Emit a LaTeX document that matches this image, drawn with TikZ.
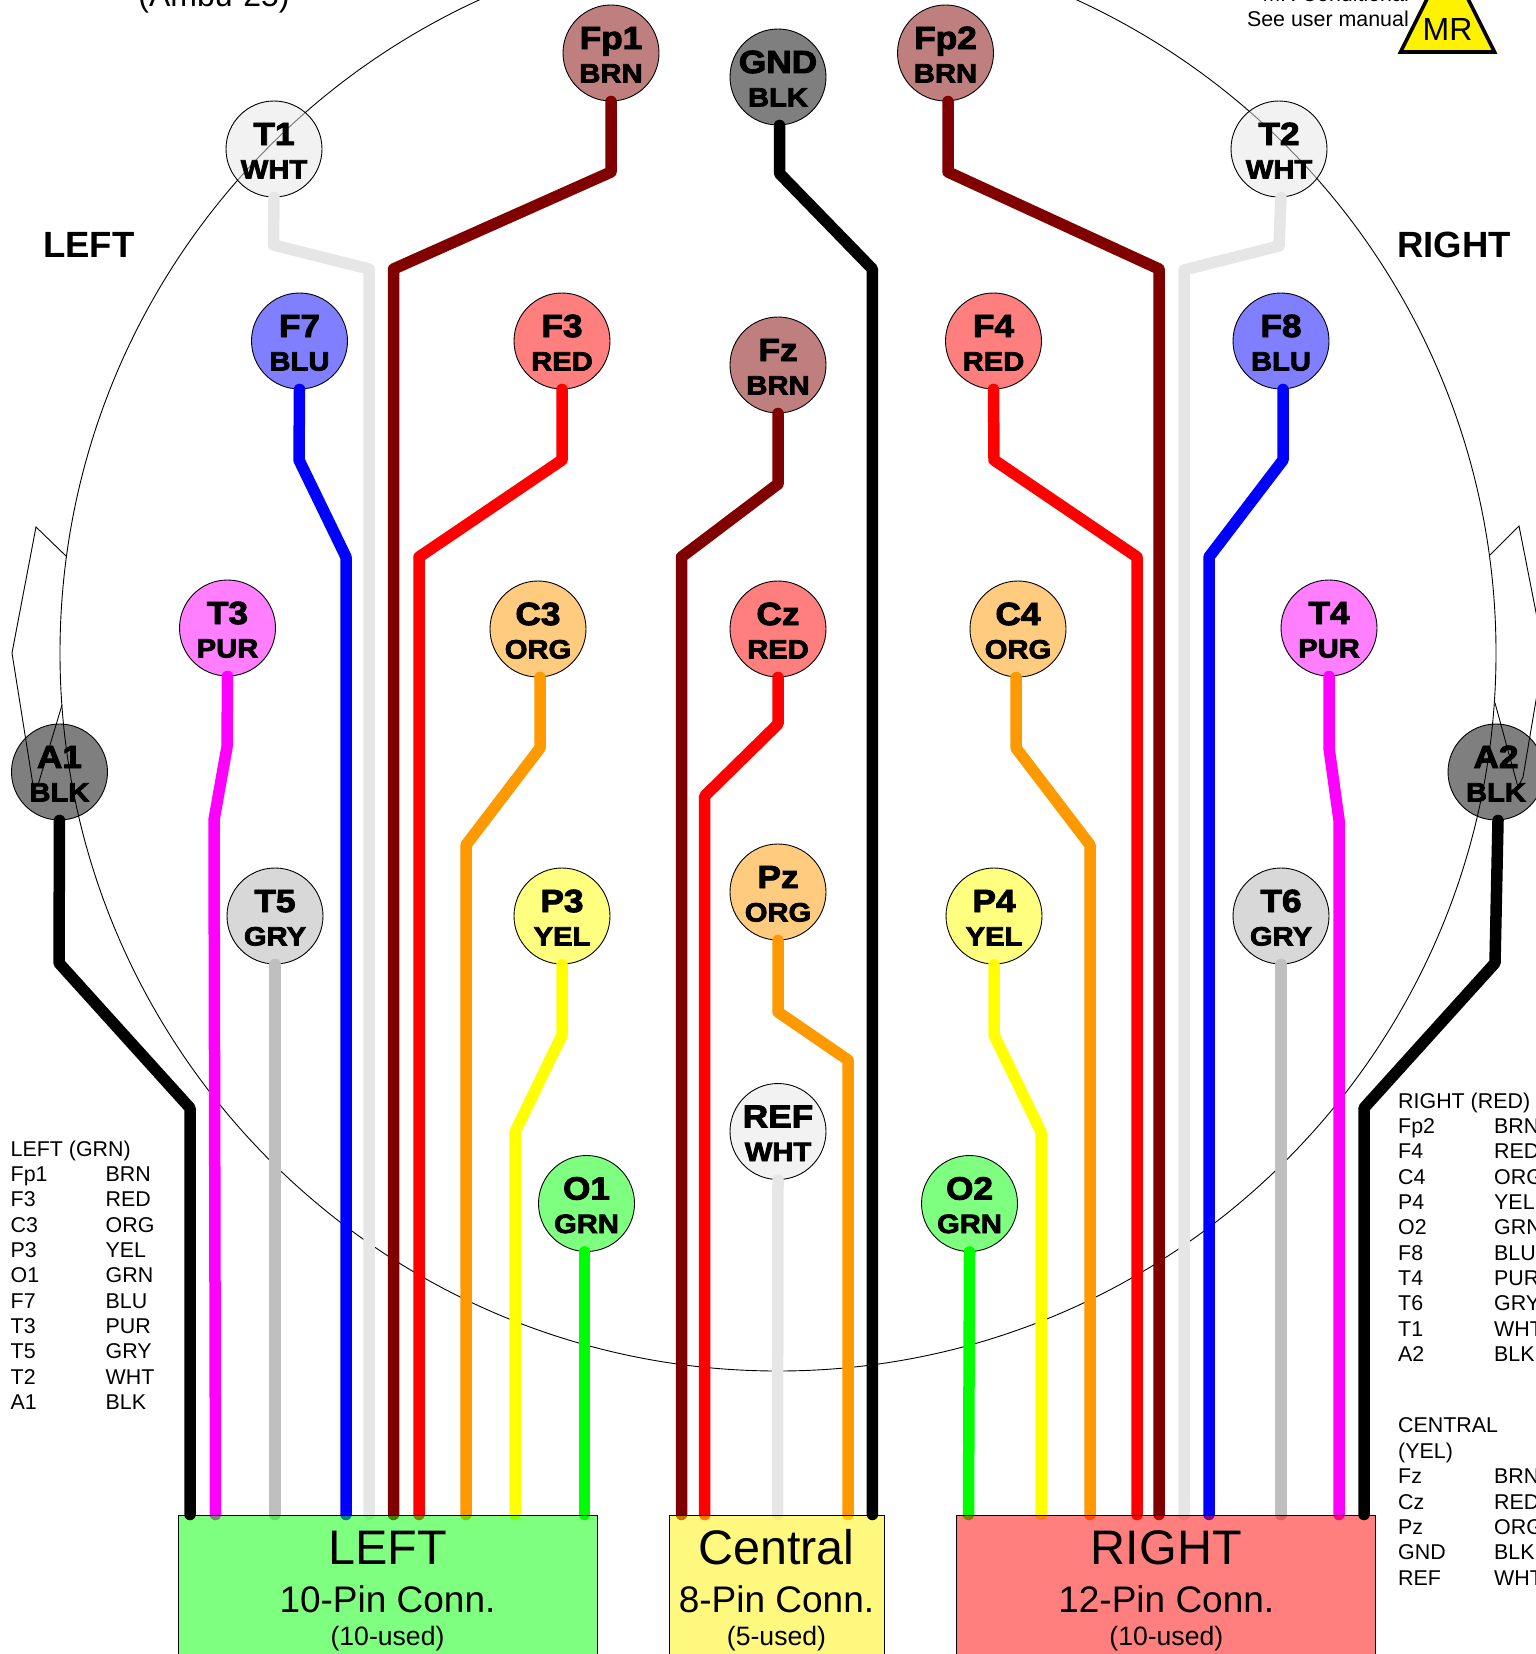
\documentclass[tikz,border=0pt]{standalone}
\usepackage{fontspec}
\setmainfont{Liberation Sans}
\newfontfamily\heavyf{Liberation Sans Bold}[FakeBold=3,FakeStretch=1.1]
\pgfdeclarelayer{back}
\pgfdeclarelayer{front}
\pgfsetlayers{back,main,front}
\definecolor{cBRN}{HTML}{800000}
\definecolor{cBLK}{HTML}{000000}
\definecolor{cWHT}{HTML}{E6E6E6}
\definecolor{cBLU}{HTML}{0000FF}
\definecolor{cRED}{HTML}{FF0000}
\definecolor{cPUR}{HTML}{FF00FF}
\definecolor{cORG}{HTML}{FF9900}
\definecolor{cGRY}{HTML}{BFBFBF}
\definecolor{cGRYn}{HTML}{B2B2B2}
\definecolor{cYEL}{HTML}{FFFF00}
\definecolor{cGRN}{HTML}{00FF00}
\newcommand\eeglab[2]{\makebox[0pt][c]{\smash{\raisebox{4pt}{\fontsize{32}{32}\heavyf #1}}}\makebox[0pt][c]{\smash{\raisebox{-29.5pt}{\fontsize{26.5}{26.5}\heavyf #2}}}}
\tikzset{
 x=1pt,y=-1pt,
 elec/.style={circle,draw=black,line width=0.9pt,fill=c#1,fill opacity=0.5,text opacity=1,minimum size=96pt,inner sep=0pt,text height=0pt,text depth=0pt},
 wire/.style={draw=c#1,line width=11.5pt,line cap=round,line join=round},
 connbox/.style={rectangle,draw=black,line width=1pt,fill=#1,fill opacity=0.5,text opacity=1,minimum height=190pt,inner sep=0pt,anchor=north},
 head/.style={draw=black,line width=0.9pt},
 txtbase/.style={anchor=base west,inner sep=0pt,font=\fontsize{21.4}{21.4}\selectfont},
 side/.style={anchor=base west,inner sep=0pt,font=\fontsize{36.5}{36.5}\selectfont\bfseries},
 boxA/.style={anchor=base,inner sep=0pt,font=\fontsize{48.5}{48.5}\selectfont},
 boxB/.style={anchor=base,inner sep=0pt,font=\fontsize{37}{37}\selectfont},
 boxC/.style={anchor=base,inner sep=0pt,font=\fontsize{26.6}{26.6}\selectfont},
}
\begin{document}
\begin{tikzpicture}
\useasboundingbox (0,0) rectangle (1536,1654);
\begin{pgfonlayer}{back}
 % head outline and ears
 \draw[head] (778,653) circle [radius=718pt];
 \draw[head] (66,556) -- (36,527) -- (12,653) -- (33,785) -- (38,785) -- (62,705);
 \draw[head] (1490,555) -- (1519,526) -- (1544,653) -- (1523,777) -- (1518,787) -- (1495,703);
 % electrodes
 \node[elec=BRN] (Fp1) at (611,53) {\eeglab{Fp1}{BRN}};
 \node[elec=BLK] (GND) at (778,77) {\eeglab{GND}{BLK}};
 \node[elec=BRN] (Fp2) at (945.5,53) {\eeglab{Fp2}{BRN}};
 \node[elec=WHT] (T1) at (274,149) {\eeglab{T1}{WHT}};
 \node[elec=WHT] (T2) at (1279,149) {\eeglab{T2}{WHT}};
 \node[elec=BLU] (F7) at (299.5,341) {\eeglab{F7}{BLU}};
 \node[elec=RED] (F3) at (562,341) {\eeglab{F3}{RED}};
 \node[elec=BRN] (Fz) at (778,365) {\eeglab{Fz}{BRN}};
 \node[elec=RED] (F4) at (993.5,341) {\eeglab{F4}{RED}};
 \node[elec=BLU] (F8) at (1281,341) {\eeglab{F8}{BLU}};
 \node[elec=PUR] (T3) at (227.5,628) {\eeglab{T3}{PUR}};
 \node[elec=ORG] (C3) at (538,629) {\eeglab{C3}{ORG}};
 \node[elec=RED] (Cz) at (778,629) {\eeglab{Cz}{RED}};
 \node[elec=ORG] (C4) at (1018,629) {\eeglab{C4}{ORG}};
 \node[elec=PUR] (T4) at (1329,628) {\eeglab{T4}{PUR}};
 \node[elec=BLK] (A1) at (59.5,772) {\eeglab{A1}{BLK}};
 \node[elec=BLK] (A2) at (1496,772) {\eeglab{A2}{BLK}};
 \node[elec=GRYn] (T5) at (275,916) {\eeglab{T5}{GRY}};
 \node[elec=YEL] (P3) at (562,916) {\eeglab{P3}{YEL}};
 \node[elec=ORG] (Pz) at (778,892) {\eeglab{Pz}{ORG}};
 \node[elec=YEL] (P4) at (994,916) {\eeglab{P4}{YEL}};
 \node[elec=GRYn] (T6) at (1281,916) {\eeglab{T6}{GRY}};
 \node[elec=WHT] (REF) at (778,1131.5) {\eeglab{REF}{WHT}};
 \node[elec=GRN] (O1) at (586.5,1203.5) {\eeglab{O1}{GRN}};
 \node[elec=GRN] (O2) at (969.5,1203.5) {\eeglab{O2}{GRN}};
\end{pgfonlayer}
\begin{pgfonlayer}{front}
 \node[connbox=green,minimum width=419pt] (boxL) at (387.5,1514.5) {};
 \node[connbox=yellow,minimum width=215pt] (boxC) at (776.5,1514.5) {};
 \node[connbox=red,minimum width=419pt] (boxR) at (1166.3,1514.5) {};
 \node[boxA] (tL1) at (387.5,1564.5) {LEFT};
 \node[boxB] (tL2) at (387.5,1612) {10-Pin Conn.};
 \node[boxC] (tL3) at (387.5,1645) {(10-used)};
 \node[boxA] (tC1) at (776.5,1564.5) {Central};
 \node[boxB] (tC2) at (776.5,1612) {8-Pin Conn.};
 \node[boxC] (tC3) at (776.5,1645) {(5-used)};
 \node[boxA] (tR1) at (1166.3,1564.5) {RIGHT};
 \node[boxB] (tR2) at (1166.3,1612) {12-Pin Conn.};
 \node[boxC] (tR3) at (1166.3,1645) {(10-used)};
 % black wires stay black over the connectors
 \draw[wire=BLK] (A1.south) -- (59,963) -- (190,1108) -- (190,0 |- boxL.north);
 \draw[wire=BLK] (GND.south) ++(1.5,0) -- ++(0,48) -- (872.4,269) -- (872.4,0 |- boxC.north);
 \draw[wire=BLK] (A2.south) ++(2,0) -- (1495,963) -- (1364,1108) -- (1364,0 |- boxR.north);
\end{pgfonlayer}
% wires into the left connector
\draw[wire=WHT] (T1.south) -- (273.5,245) -- (369,269) -- (369,0 |- boxL.north);
\draw[wire=BRN] (Fp1.south) -- (611,172) -- (393.5,269) -- (393.5,0 |- boxL.north);
\draw[wire=BLU] (F7.south) -- (299,460) -- (346,557) -- (346,0 |- boxL.north);
\draw[wire=RED] (F3.south) -- (562,460) -- (419,557) -- (419,0 |- boxL.north);
\draw[wire=PUR] (T3.south) -- (227,747) -- (214,820) -- (215.5,0 |- boxL.north);
\draw[wire=ORG] ([xshift=2pt]C3.south) -- (540,748) -- (466,845) -- (466,0 |- boxL.north);
\draw[wire=GRY] (T5.south) -- (275,0 |- boxL.north);
\draw[wire=YEL] (P3.south) -- (562,1035) -- (515,1132) -- (515,0 |- boxL.north);
\draw[wire=GRN] ([xshift=-2pt]O1.south) -- (584.5,0 |- boxL.north);
% wires into the central connector
\draw[wire=BRN] (Fz.south) -- (778,484) -- (681.5,557) -- (681.5,0 |- boxC.north);
\draw[wire=RED] (Cz.south) -- (778,724) -- (704.7,796) -- (704.7,0 |- boxC.north);
\draw[wire=ORG] (Pz.south) -- (778,1012) -- (848,1060) -- (848,0 |- boxC.north);
\draw[wire=WHT] (REF.south) -- (777.5,0 |- boxC.north);
% wires into the right connector
\draw[wire=BRN] ([xshift=2.5pt]Fp2.south) -- (948,172) -- (1159,269) -- (1159,0 |- boxR.north);
\draw[wire=RED] (F4.south) -- (994,460) -- (1137,557) -- (1137,0 |- boxR.north);
\draw[wire=WHT] ([xshift=2pt]T2.south) -- (1279,246) -- (1184,270) -- (1184,0 |- boxR.north);
\draw[wire=BLU] ([xshift=2pt]F8.south) -- (1283,460) -- (1209,557) -- (1209,0 |- boxR.north);
\draw[wire=PUR] (T4.south) -- (1329,748) -- (1339,820) -- (1339,0 |- boxR.north);
\draw[wire=ORG] ([xshift=-2pt]C4.south) -- (1016,748) -- (1090,845) -- (1090,0 |- boxR.north);
\draw[wire=GRY] (T6.south) -- (1281,0 |- boxR.north);
\draw[wire=YEL] (P4.south) -- (994,1035) -- (1041,1132) -- (1041,0 |- boxR.north);
\draw[wire=GRN] (O2.south) -- (968.5,0 |- boxR.north);
% MR symbol
\draw[black,line width=3.6pt,fill=yellow,miter limit=10] (1447.5,-42) -- (1400.5,52) -- (1494.5,52) -- cycle;
\node[anchor=base,inner sep=0pt,font=\fontsize{32}{32}\selectfont] (mr) at (1447.5,41) {MR};
\node[anchor=base east,inner sep=0pt,font=\fontsize{21.4}{21.4}\selectfont] (mr1) at (1409,1.5) {MR Conditional};
\node[anchor=base east,inner sep=0pt,font=\fontsize{21.4}{21.4}\selectfont] (mr2) at (1409,27) {See user manual};
\node[anchor=base,inner sep=0pt,font=\fontsize{32}{32}\selectfont] (ambu) at (214,6.5) {(Ambu-25)};
\node[side] (sL) at (43,257) {LEFT};
\node[side] (sR) at (1397,257) {RIGHT};
% left legend
\node[txtbase] (l0) at (10.5,1156) {LEFT (GRN)};
\foreach \a/\b/\y in {Fp1/BRN/1181.3,F3/RED/1206.6,C3/ORG/1232,P3/YEL/1257.3,O1/GRN/1282.6,F7/BLU/1308,T3/PUR/1333.3,T5/GRY/1358.6,T2/WHT/1384,A1/BLK/1409.3}{
 \node[txtbase] (ll\a) at (10.5,\y) {\a};
 \node[txtbase] (lr\a) at (105.5,\y) {\b};
}
% right legend
\node[txtbase] (r0) at (1398,1108) {RIGHT (RED)};
\foreach \a/\b/\y in {Fp2/BRN/1133.3,F4/RED/1158.6,C4/ORG/1184,P4/YEL/1209.3,O2/GRN/1234.6,F8/BLU/1260,T4/PUR/1285.3,T6/GRY/1310.6,T1/WHT/1336,A2/BLK/1361.3}{
 \node[txtbase] (rl\a) at (1398,\y) {\a};
 \node[txtbase] (rr\a) at (1494,\y) {\b};
}
\node[txtbase] (c0) at (1398,1432.5) {CENTRAL};
\node[txtbase] (c1) at (1398,1458.5) {(YEL)};
\foreach \a/\b/\y in {Fz/BRN/1483.5,Cz/RED/1509,Pz/ORG/1534.3,GND/BLK/1559.6,REF/WHT/1585}{
 \node[txtbase] (cl\a) at (1398,\y) {\a};
 \node[txtbase] (cr\a) at (1494,\y) {\b};
}
\end{tikzpicture}
\end{document}
